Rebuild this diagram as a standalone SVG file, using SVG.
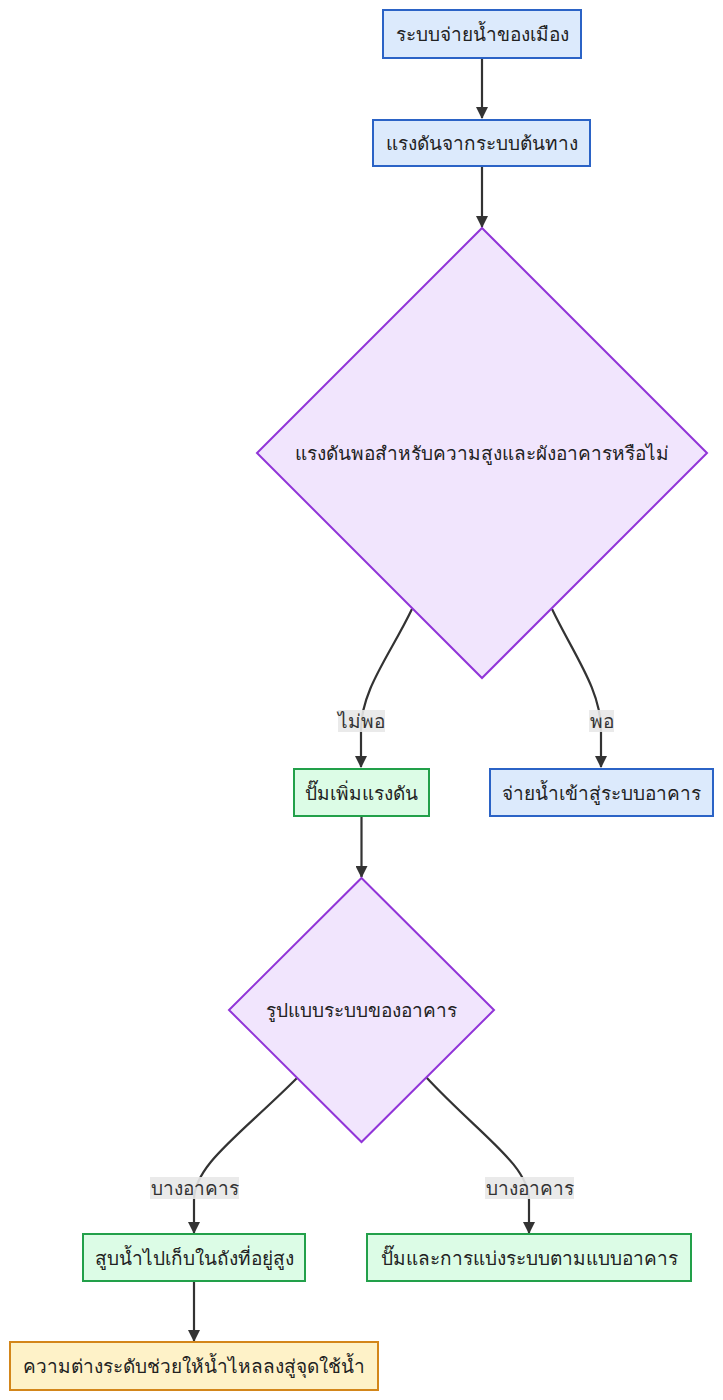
<svg xmlns="http://www.w3.org/2000/svg" width="723" height="1400" viewBox="0 0 723 1400">
<style>
text{font-family:"Noto Sans","DejaVu Sans",sans-serif;fill:#222;text-anchor:middle;dominant-baseline:central}
.n{font-size:19px}
.l{font-size:19px;fill:#333}
.blue{fill:#dceafc;stroke:#2b63c6;stroke-width:2}
.green{fill:#dcfce6;stroke:#22a04a;stroke-width:2}
.purple{fill:#f1e5fd;stroke:#9135d8;stroke-width:2}
.yellow{fill:#fef2c8;stroke:#d3861a;stroke-width:2}
.e{fill:none;stroke:#333;stroke-width:2.2}
.lb{fill:#e8e8e8;opacity:0.9}
</style>
<defs>
<marker id="ah" viewBox="0 0 12 12" refX="11" refY="6" markerWidth="12" markerHeight="12" markerUnits="userSpaceOnUse" orient="auto">
<path d="M0,0 L12,6 L0,12 Z" fill="#333"/>
</marker>
</defs>
<rect width="723" height="1400" fill="#fff"/>
<g id="edges">
<path class="e" d="M482,58 L482,118" marker-end="url(#ah)"/>
<path class="e" d="M482,166 L482,227" marker-end="url(#ah)"/>
<path class="e" d="M412,609 C390,655 361,690 361,730 L361,767" marker-end="url(#ah)"/>
<path class="e" d="M552,609 C574,655 601,690 601,730 L601,767" marker-end="url(#ah)"/>
<path class="e" d="M361.5,816 L361.5,877" marker-end="url(#ah)"/>
<path class="e" d="M297,1078 C240,1135 194,1165 194,1200 L194,1233" marker-end="url(#ah)"/>
<path class="e" d="M426,1077 C480,1135 529,1165 529,1200 L529,1233" marker-end="url(#ah)"/>
<path class="e" d="M194,1281 L194,1341" marker-end="url(#ah)"/>
</g>
<g id="edge-labels">
<rect class="lb" x="338" y="710" width="47" height="22"/>
<text class="l" x="361.5" y="721">ไม่พอ</text>
<rect class="lb" x="589" y="710" width="25" height="22"/>
<text class="l" x="601.5" y="721">พอ</text>
<rect class="lb" x="150" y="1177" width="89" height="22"/>
<text class="l" x="194.5" y="1188">บางอาคาร</text>
<rect class="lb" x="485" y="1177" width="89" height="22"/>
<text class="l" x="529.5" y="1188">บางอาคาร</text>
</g>
<g id="n1"><rect class="blue" x="383" y="10" width="198" height="48"/><text class="n" x="482" y="34">ระบบจ่ายน้ำของเมือง</text></g>
<g id="n2"><rect class="blue" x="373" y="120" width="217" height="46"/><text class="n" x="481.5" y="143">แรงดันจากระบบต้นทาง</text></g>
<g id="d1"><polygon class="purple" points="482,228 707,453 482,678 257,453"/><text class="n" x="482" y="453">แรงดันพอสำหรับความสูงและผังอาคารหรือไม่</text></g>
<g id="n3"><rect class="green" x="294" y="769" width="135" height="47"/><text class="n" x="361.5" y="792.5">ปั๊มเพิ่มแรงดัน</text></g>
<g id="n4"><rect class="blue" x="490" y="769" width="223" height="47"/><text class="n" x="601.5" y="792.5">จ่ายน้ำเข้าสู่ระบบอาคาร</text></g>
<g id="d2"><polygon class="purple" points="361.5,878 494,1010 361.5,1142 229,1010"/><text class="n" x="361.5" y="1010">รูปแบบระบบของอาคาร</text></g>
<g id="n5"><rect class="green" x="83" y="1234" width="222" height="47"/><text class="n" x="194" y="1257.5">สูบน้ำไปเก็บในถังที่อยู่สูง</text></g>
<g id="n6"><rect class="green" x="367" y="1234" width="324" height="47"/><text class="n" x="529" y="1257.5">ปั๊มและการแบ่งระบบตามแบบอาคาร</text></g>
<g id="n7"><rect class="yellow" x="10" y="1342" width="368" height="48"/><text class="n" x="194" y="1366">ความต่างระดับช่วยให้น้ำไหลลงสู่จุดใช้น้ำ</text></g>
</svg>
